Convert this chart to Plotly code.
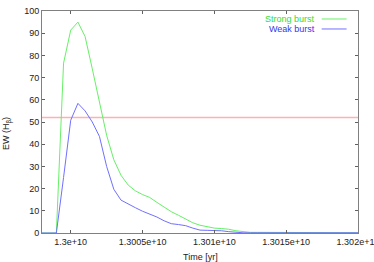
import plotly.graph_objects as go

# Time grid (yr), 5e5-yr steps
time_yr = [1.2998e10, 1.29985e10, 1.2999e10, 1.29995e10, 1.3e10, 1.30005e10,
           1.3001e10, 1.30015e10, 1.3002e10, 1.30025e10, 1.3003e10, 1.30035e10,
           1.3004e10, 1.30045e10, 1.3005e10, 1.30055e10, 1.3006e10, 1.30065e10,
           1.3007e10, 1.30075e10, 1.3008e10, 1.30085e10, 1.3009e10, 1.30095e10,
           1.301e10, 1.30105e10, 1.3011e10, 1.30115e10, 1.3012e10, 1.30125e10,
           1.3013e10, 1.30135e10, 1.3014e10, 1.30145e10, 1.3015e10, 1.30155e10,
           1.3016e10, 1.30165e10, 1.3017e10, 1.30175e10, 1.3018e10, 1.30185e10,
           1.3019e10, 1.30195e10, 1.302e10]

strong_burst = [0, 0, 0, 76.5, 91.4, 95.0, 88.5, 74.0, 59.5, 44.0, 33.0, 26.0,
                21.6, 19.0, 17.3, 16.0, 13.8, 11.5, 9.6, 8.0, 6.3, 4.6, 3.5, 2.8,
                2.2, 2.0, 1.7, 1.0, 0.5, 0.3, 0.3, 0.3, 0.3, 0.3, 0.3, 0.3, 0.2,
                0.2, 0.1, 0.1, 0.1, 0.1, 0.1, 0.1, 0.1]
weak_burst = [0, 0, 0, 25.0, 50.8, 58.4, 55.0, 50.0, 43.5, 30.0, 19.7, 14.8,
              13.0, 11.4, 9.8, 8.6, 7.2, 5.5, 4.2, 3.8, 3.3, 2.2, 1.3, 1.2,
              1.2, 1.0, 0.6, 0.3, 0.1, 0.1, 0.1, 0.1, 0.1, 0.1, 0.1, 0.1, 0.1,
              0.1, 0.1, 0.1, 0.1, 0.1, 0.1, 0.1, 0.1]
threshold = 52

x_range = [1.2998e10, 1.302e10]
x_tickvals = [1.3e10, 1.3005e10, 1.301e10, 1.3015e10, 1.302e10]
x_ticktext = ["1.3e+10", "1.3005e+10", "1.301e+10", "1.3015e+10", "1.302e+10"]
y_tickvals = [0, 10, 20, 30, 40, 50, 60, 70, 80, 90, 100]

GREEN = "#66f066"
BLUE = "#7070ff"
RED = "#ffb0b0"
FONT = "Liberation Sans, Arial, sans-serif"
TXT = "#222222"

fig = go.Figure()
fig.add_trace(go.Scatter(x=x_range, y=[threshold, threshold], mode="lines",
                         line=dict(color=RED, width=1.6), showlegend=False))
fig.add_trace(go.Scatter(x=time_yr, y=strong_burst, mode="lines",
                         line=dict(color=GREEN, width=1), showlegend=False))
fig.add_trace(go.Scatter(x=time_yr, y=weak_burst, mode="lines",
                         line=dict(color=BLUE, width=1), showlegend=False))

# gnuplot-style key: text right-aligned, sample line to its right
for label, col, tcol, yp in [("Strong burst", GREEN, "#33dd33", 0.964),
                             ("Weak burst", BLUE, "#3535ee", 0.919)]:
    fig.add_annotation(x=0.871, y=yp, xref="paper", yref="paper", text=label,
                       showarrow=False, xanchor="right", yanchor="middle",
                       font=dict(family=FONT, size=9, color=tcol))
    fig.add_shape(type="line", xref="paper", yref="paper", x0=0.885, x1=0.964,
                  y0=yp, y1=yp, line=dict(color=col, width=1))

# axis titles
fig.add_annotation(x=0.5, y=0, xref="paper", yref="paper", text="Time [yr]",
                   showarrow=False, xanchor="center", yanchor="top", yshift=-17,
                   font=dict(family=FONT, size=9, color=TXT))
fig.add_annotation(x=-0.111, y=0.45, xref="paper", yref="paper",
                   text="EW (H<sub>β</sub>)", textangle=-90,
                   showarrow=False, xanchor="center", yanchor="middle",
                   font=dict(family=FONT, size=9, color=TXT))

axis_common = dict(showline=True, linecolor="#808080", linewidth=1, mirror="ticks",
                   ticks="inside", ticklen=3, tickcolor="#606060", showgrid=False,
                   zeroline=False, automargin=False, ticklabeloverflow="allow",
                   tickfont=dict(family=FONT, size=9, color=TXT))

fig.update_layout(
    width=374, height=262, template="none",
    paper_bgcolor="white", plot_bgcolor="white",
    margin=dict(l=42, r=16, t=11, b=29),
    showlegend=False,
    xaxis=dict(range=x_range, tickvals=x_tickvals, ticktext=x_ticktext,
               **axis_common),
    yaxis=dict(range=[0, 100], tickvals=y_tickvals, **axis_common),
)

fig.write_html("out.html", config={"displayModeBar": False},
               post_script="document.body.style.margin='0';document.body.style.overflow='hidden';")
